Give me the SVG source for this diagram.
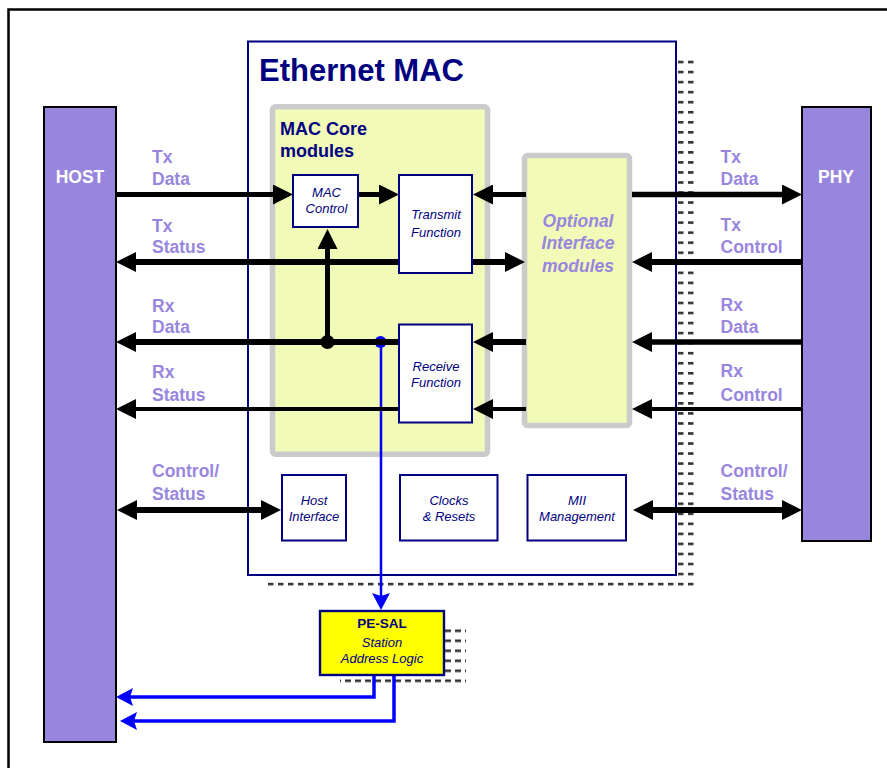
<svg xmlns="http://www.w3.org/2000/svg" width="887" height="768" viewBox="0 0 887 768">
<style>
.lbl{font-family:"Liberation Sans",Arial,sans-serif;font-weight:bold;font-size:17.5px;fill:#9886DE}
.nav{font-family:"Liberation Sans",Arial,sans-serif;fill:#000080}
.sm{font-family:"Liberation Sans",Arial,sans-serif;font-style:italic;font-size:13px;fill:#000080;text-anchor:middle}
.smb{font-family:"Liberation Sans",Arial,sans-serif;font-weight:bold;font-size:13.5px;fill:#000080;text-anchor:middle}
.box{fill:#fff;stroke:#000080;stroke-width:2}
.core{fill:#F2FAB8;stroke:#CBCBCB;stroke-width:5.5}
.bar{fill:#9886DE;stroke:#000;stroke-width:2}
.k{fill:none;stroke:#000}
.b{fill:none;stroke:#0000FF}
</style>
<defs>
<pattern id="dots" patternUnits="userSpaceOnUse" x="8" y="60.7" width="10" height="10.04">
<rect x="0" y="0" width="5.5" height="2.6" fill="#333"/>
</pattern>
<pattern id="dots2" patternUnits="userSpaceOnUse" x="5" y="629.5" width="10" height="10">
<rect x="0" y="0" width="6" height="2.6" fill="#333"/>
</pattern>
<marker id="ah" viewBox="0 0 20 20" markerWidth="20" markerHeight="20" refX="10" refY="10" orient="auto-start-reverse" markerUnits="userSpaceOnUse">
<path d="M0,0 L20,10 L0,20 z" fill="#000"/>
</marker>
<marker id="bh" viewBox="0 0 17 18" markerWidth="17" markerHeight="18" refX="8" refY="9" orient="auto-start-reverse" markerUnits="userSpaceOnUse">
<path d="M0,0 L17,9 L0,18 L3,9 z" fill="#0000FF"/>
</marker>
</defs>
<rect x="8.5" y="9.5" width="1000" height="1000" fill="none" stroke="#000" stroke-width="2.5"/>

<g id="ethernet-mac">
<rect x="268" y="60" width="426" height="528" fill="url(#dots)"/>
<rect x="248" y="41.5" width="428" height="533.5" class="box" stroke-width="2.4"/>
<text x="259" y="80.7" class="nav" font-weight="bold" font-size="31">Ethernet MAC</text>
</g>

<g id="mac-core">
<rect x="272.5" y="106.8" width="215" height="347.5" rx="3" class="core"/>
<text class="nav" font-weight="bold" font-size="18"><tspan x="280" y="135">MAC Core</tspan><tspan x="280" y="156.7">modules</tspan></text>
</g>

<g id="optional-interface">
<rect x="524.5" y="155.5" width="105" height="270" rx="3" class="core"/>
<text class="lbl" font-style="italic" font-size="18" text-anchor="middle"><tspan x="578" y="227.3">Optional</tspan><tspan x="578" y="249">Interface</tspan><tspan x="578" y="272.3">modules</tspan></text>
</g>

<g id="host">
<rect x="44" y="107" width="72" height="635" class="bar"/>
<text x="80" y="182.7" class="lbl" style="fill:#fff" text-anchor="middle">HOST</text>
</g>

<g id="phy">
<rect x="802" y="107" width="69" height="434" class="bar"/>
<text x="836" y="182.7" class="lbl" style="fill:#fff" text-anchor="middle">PHY</text>
</g>

<g id="pe-sal">
<rect x="340" y="629" width="126" height="55" fill="url(#dots2)"/>
<rect x="320" y="611" width="124" height="64" fill="#FFFF00" stroke="#000080" stroke-width="2.4"/>
<text x="382" y="628.3" class="smb">PE-SAL</text>
<text class="sm" font-size="13.5"><tspan x="382" y="646.7">Station</tspan><tspan x="382" y="662.7">Address Logic</tspan></text>
</g>

<g id="connectors">
<g id="blue-connectors">
<circle cx="380.5" cy="342" r="6" fill="#0000FF"/>
<path d="M381,342 V601" class="b" stroke-width="2.5" marker-end="url(#bh)"/>
<path d="M374,676 V697 H125" class="b" stroke-width="3.5" marker-end="url(#bh)"/>
<path d="M394,676 V721 H129" class="b" stroke-width="3.5" marker-end="url(#bh)"/>
</g>
<path d="M116,194.5 H283" class="k" stroke-width="5" marker-end="url(#ah)"/>
<path d="M358,194.5 H389" class="k" stroke-width="5" marker-end="url(#ah)"/>
<path d="M526,194.5 H483" class="k" stroke-width="5" marker-end="url(#ah)"/>
<path d="M126,262 H515" class="k" stroke-width="6" marker-start="url(#ah)" marker-end="url(#ah)"/>
<path d="M327.5,342 V239" class="k" stroke-width="5" marker-end="url(#ah)"/>
<path d="M126,342 H400" class="k" stroke-width="6" marker-start="url(#ah)"/>
<circle cx="327.5" cy="342" r="7" fill="#000"/>
<path d="M526,342 H483" class="k" stroke-width="6" marker-end="url(#ah)"/>
<path d="M126,409 H400" class="k" stroke-width="4" marker-start="url(#ah)"/>
<path d="M526,409 H483" class="k" stroke-width="4" marker-end="url(#ah)"/>
<path d="M127,510 H271" class="k" stroke-width="6" marker-start="url(#ah)" marker-end="url(#ah)"/>
<path d="M632,194.5 H792" class="k" stroke-width="5.5" marker-end="url(#ah)"/>
<path d="M802,262 H642" class="k" stroke-width="6" marker-end="url(#ah)"/>
<path d="M802,342 H642" class="k" stroke-width="5.5" marker-end="url(#ah)"/>
<path d="M802,409 H642" class="k" stroke-width="4" marker-end="url(#ah)"/>
<path d="M643,510 H792" class="k" stroke-width="6" marker-start="url(#ah)" marker-end="url(#ah)"/>
</g>

<g id="labels-left" class="lbl">
<text x="152" y="163.3">Tx</text><text x="152" y="185">Data</text>
<text x="152" y="231.7">Tx</text><text x="152" y="253.3">Status</text>
<text x="152" y="311.7">Rx</text><text x="152" y="333.3">Data</text>
<text x="152" y="377.7">Rx</text><text x="152" y="401">Status</text>
<text x="152" y="476.7">Control/</text><text x="152" y="500">Status</text>
</g>
<g id="labels-right" class="lbl">
<text x="720.5" y="163.3">Tx</text><text x="720.5" y="184.5">Data</text>
<text x="720.5" y="231">Tx</text><text x="720.5" y="252.7">Control</text>
<text x="720.5" y="311">Rx</text><text x="720.5" y="332.7">Data</text>
<text x="720.5" y="376.7">Rx</text><text x="720.5" y="401">Control</text>
<text x="720.5" y="476.7">Control/</text><text x="720.5" y="500">Status</text>
</g>

<g id="mac-control">
<rect x="293" y="175" width="65" height="52" class="box"/>
<text class="sm"><tspan x="326.5" y="196.7">MAC</tspan><tspan x="326.5" y="213.3">Control</tspan></text>
</g>
<g id="transmit-function">
<rect x="399" y="175" width="73" height="98" class="box"/>
<text class="sm"><tspan x="436" y="219">Transmit</tspan><tspan x="436" y="236.7">Function</tspan></text>
</g>
<g id="receive-function">
<rect x="399" y="324.5" width="73" height="98" class="box"/>
<text class="sm"><tspan x="436" y="370.7">Receive</tspan><tspan x="436" y="386.7">Function</tspan></text>
</g>
<g id="host-interface">
<rect x="282" y="475" width="64" height="65.5" class="box"/>
<text class="sm"><tspan x="314" y="505">Host</tspan><tspan x="314" y="521">Interface</tspan></text>
</g>
<g id="clocks-resets">
<rect x="400" y="475" width="97.5" height="65.5" class="box"/>
<text class="sm"><tspan x="449" y="505">Clocks</tspan><tspan x="449" y="521">&amp; Resets</tspan></text>
</g>
<g id="mii-management">
<rect x="527.5" y="475" width="98.5" height="65.5" class="box"/>
<text class="sm"><tspan x="577" y="505">MII</tspan><tspan x="577" y="521">Management</tspan></text>
</g>
</svg>
